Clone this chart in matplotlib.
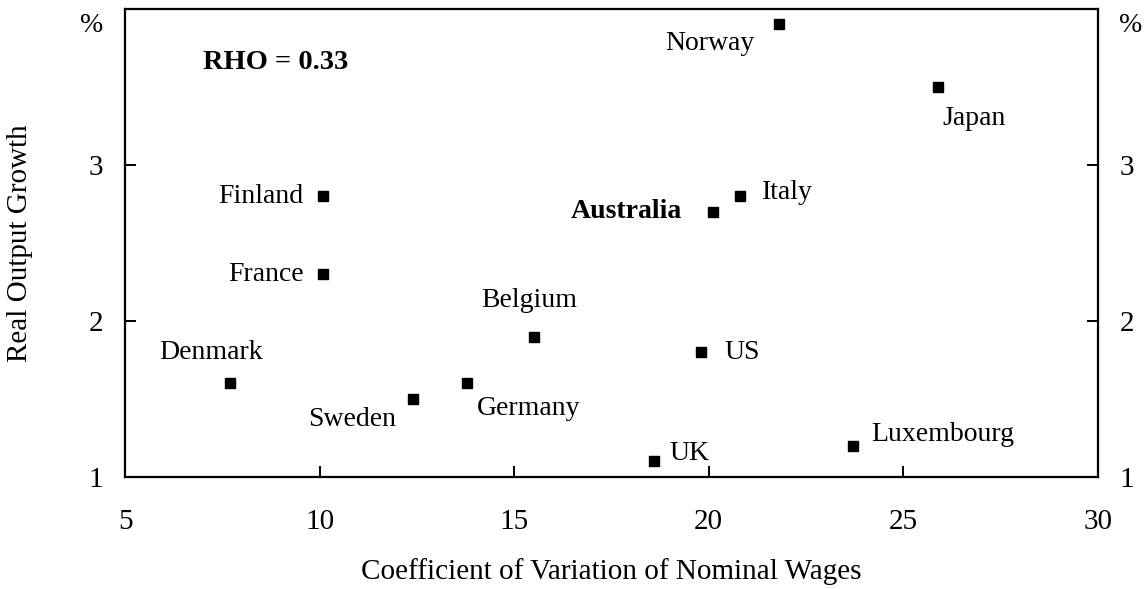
import matplotlib
matplotlib.use("Agg")
import matplotlib.pyplot as plt

plt.rcParams["font.family"] = ["Liberation Serif", "DejaVu Serif"]

COUNTRIES = ["Denmark", "Finland", "France", "Sweden", "Germany", "Belgium", "US",
             "UK", "Australia", "Italy", "Norway", "Luxembourg", "Japan"]
WAGE_CV = [7.7, 10.1, 10.1, 12.4, 13.8, 15.5, 19.8, 18.6, 20.1, 20.8, 21.8, 23.7, 25.9]
OUTPUT_GROWTH = [1.6, 2.8, 2.3, 1.5, 1.6, 1.9, 1.8, 1.1, 2.7, 2.8, 3.9, 1.2, 3.5]
RHO = 0.33

# label placement: (dx px, dy px, ha)
LABEL_POS = {
    "Denmark": (-19, 31, "center"),
    "Finland": (-20, 0, "right"),
    "France": (-20, 0, "right"),
    "Sweden": (-17, -20, "right"),
    "Germany": (9, -25, "left"),
    "Belgium": (-4, 36, "center"),
    "US": (24, 0, "left"),
    "UK": (15, 8, "left"),
    "Australia": (-31, 0, "right"),
    "Italy": (22, 4, "left"),
    "Norway": (-24, -19, "right"),
    "Luxembourg": (19, 11, "left"),
    "Japan": (4, -32, "left"),
}

FS = 20
FS_TICK = 21
FS_AXIS = 21

fig = plt.figure(figsize=(11.47, 5.89), dpi=100)
ax = fig.add_axes([0.109, 0.190, 0.848, 0.795])

ax.plot(WAGE_CV, OUTPUT_GROWTH, linestyle="none", marker="s", markersize=7,
        color="black", zorder=3)

for name, x, y in zip(COUNTRIES, WAGE_CV, OUTPUT_GROWTH):
    dx, dy, ha = LABEL_POS[name]
    ax.annotate(name, (x, y), textcoords="offset pixels", xytext=(dx, dy),
                ha=ha, va="center", fontsize=FS,
                fontweight="bold" if name == "Australia" else "normal")

ax.text(0.08, 0.885, f"RHO = {RHO:.2f}", transform=ax.transAxes, fontsize=20.5,
        fontweight="bold", va="center", ha="left")

ax.set_xlim(5, 30)
ax.set_ylim(1, 4)
ax.set_xticks([5, 10, 15, 20, 25, 30])
ax.set_yticks([1, 2, 3])

for spine in ax.spines.values():
    spine.set_linewidth(1.6)

ax.tick_params(axis="x", direction="in", length=8, width=1.4, pad=23, labelsize=FS_TICK)
ax.tick_params(axis="y", direction="in", length=8, width=1.4, pad=16, labelsize=FS_TICK,
               left=True, right=True, labelleft=True, labelright=True)

ax.set_xlabel("Coefficient of Variation of Nominal Wages", fontsize=FS_AXIS)
ax.set_ylabel("Real Output Growth", fontsize=FS_AXIS)
ax.xaxis.set_label_coords(0.5, -0.172)
ax.yaxis.set_label_coords(-0.095, 0.5)

ax.text(-0.034, 0.965, "%", transform=ax.transAxes, fontsize=FS, ha="center", va="center")
ax.text(1.034, 0.965, "%", transform=ax.transAxes, fontsize=FS, ha="center", va="center")

fig.savefig("out.png", dpi=100)
